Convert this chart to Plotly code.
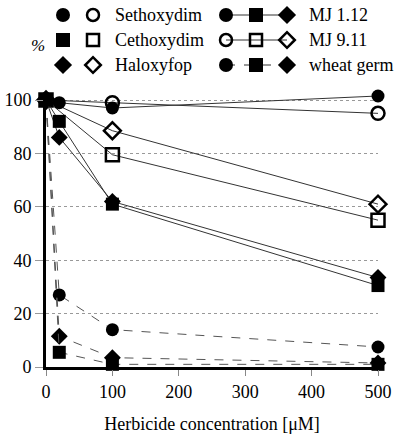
import plotly.graph_objects as go

# ---- data ----
conc = [0, 20, 100, 500]
conc_open = [0, 100, 500]

mj112_sethoxydim = [100, 99, 97, 101.5]
mj112_cethoxydim = [100, 92, 61, 30.5]
mj112_haloxyfop = [100, 86, 62, 33.5]

mj911_sethoxydim = [100, 99, 95]
mj911_cethoxydim = [100, 79.5, 55]
mj911_haloxyfop = [100, 88.5, 61]

wheat_sethoxydim = [100, 27, 14, 7.5]
wheat_cethoxydim = [100, 5.5, 1, 1]
wheat_haloxyfop = [100, 11.5, 3.5, 1.5]

x_ticks = [0, 100, 200, 300, 400, 500]
y_ticks = [0, 20, 40, 60, 80, 100]

FONT = "Liberation Serif"
W, H = 400, 439
ML, MR, MB = 46, 22, 72
plot_h = H - MB  # t = 0
Y_TOP = 102.5
px_per_unit = (367 - 100) / 100.0
y_dom_top = (Y_TOP * px_per_unit) / plot_h

fig = go.Figure()

def series(x, y, symbol, filled, dash):
    fig.add_trace(go.Scatter(
        x=x, y=y, mode="lines+markers",
        line=dict(color="#333" if dash == "solid" else "#555", width=1, dash=dash),
        marker=dict(symbol=symbol if filled else symbol + "-open",
                    size=13,
                    color="black",
                    line=dict(color="black", width=2.5 if not filled else 0)),
        cliponaxis=False, showlegend=False, hoverinfo="skip"))

# dashed wheat germ first (underneath)
series(conc, wheat_sethoxydim, "circle", True, "dash")
series(conc, wheat_haloxyfop, "diamond", True, "dash")
series(conc, wheat_cethoxydim, "square", True, "dash")
# MJ 9.11 open
series(conc_open, mj911_sethoxydim, "circle", False, "solid")
series(conc_open, mj911_haloxyfop, "diamond", False, "solid")
series(conc_open, mj911_cethoxydim, "square", False, "solid")
# MJ 1.12 filled
series(conc, mj112_sethoxydim, "circle", True, "solid")
series(conc, mj112_haloxyfop, "diamond", True, "solid")
series(conc, mj112_cethoxydim, "square", True, "solid")

# ---- custom legend on auxiliary axes (pixel-like coordinates) ----
leg_rows = [15, 40, 65]
left_syms = ["circle", "square", "diamond"]
left_labels = ["Sethoxydim", "Cethoxydim", "Haloxyfop"]
right_labels = ["MJ 1.12", "MJ 9.11", "wheat germ"]

for r, yy in enumerate(leg_rows):
    s = left_syms[r]
    fig.add_trace(go.Scatter(x=[63], y=[yy], mode="markers", xaxis="x2", yaxis="y2",
                             marker=dict(symbol=s, size=14, color="black"),
                             showlegend=False, hoverinfo="skip", cliponaxis=False))
    fig.add_trace(go.Scatter(x=[93], y=[yy], mode="markers", xaxis="x2", yaxis="y2",
                             marker=dict(symbol=s + "-open", size=12, color="black",
                                         line=dict(width=2.5, color="black")),
                             showlegend=False, hoverinfo="skip", cliponaxis=False))
    fig.add_annotation(x=113, y=yy, xref="x2", yref="y2", text=left_labels[r],
                       showarrow=False, xanchor="left", yanchor="middle",
                       font=dict(family=FONT, size=18, color="black"))
    filled = r != 1
    dash = "dash" if r == 2 else "solid"
    fig.add_trace(go.Scatter(x=[226, 256, 287], y=[yy, yy, yy], mode="lines+markers",
                             xaxis="x2", yaxis="y2",
                             line=dict(color="#333", width=1, dash=dash),
                             marker=dict(symbol=[sy if filled else sy + "-open" for sy in left_syms],
                                         size=14 if filled else 12, color="black",
                                         line=dict(width=0 if filled else 2.5, color="black")),
                             showlegend=False, hoverinfo="skip", cliponaxis=False))
    fig.add_annotation(x=307, y=yy, xref="x2", yref="y2", text=right_labels[r],
                       showarrow=False, xanchor="left", yanchor="middle",
                       font=dict(family=FONT, size=18, color="black"))

fig.add_annotation(x=(38 - ML) / (W - ML - MR), y=(plot_h - 45) / plot_h,
                   xref="paper", yref="paper",
                   text="<i>%</i>", showarrow=False, xanchor="center", yanchor="middle",
                   font=dict(family=FONT, size=17, color="black"))

fig.update_layout(
    width=W, height=H,
    margin=dict(l=ML, r=MR, t=0, b=MB, autoexpand=False),
    paper_bgcolor="white", plot_bgcolor="white",
    font=dict(family=FONT, size=18, color="black"),
    xaxis=dict(domain=[0, 1], range=[0, 500], tickvals=x_ticks, automargin=False,
               showline=True, linecolor="black", linewidth=3,
               ticks="outside", ticklen=6, tickcolor="#888", tickwidth=1,
               showgrid=False, zeroline=False,
               tickfont=dict(family=FONT, size=18),
               title=dict(text="Herbicide concentration [μM]", standoff=17,
                          font=dict(family=FONT, size=18))),
    yaxis=dict(domain=[0, y_dom_top], range=[0, Y_TOP], tickvals=y_ticks, automargin=False,
               showline=True, linecolor="black", linewidth=3,
               ticks="outside", ticklen=8, tickcolor="#999", tickwidth=1,
               tickfont=dict(family=FONT, size=18),
               showgrid=True, gridcolor="#999", griddash="dot", gridwidth=1,
               zeroline=False),
    xaxis2=dict(domain=[0, 1], range=[ML, W - MR], visible=False, anchor="y2",
                fixedrange=True),
    yaxis2=dict(domain=[0.76, 1], range=[(1 - 0.76) * plot_h, 0],
                visible=False, anchor="x2", fixedrange=True),
)

fig.write_html("out.html", post_script="document.body.style.margin='0';",
               config={"displayModeBar": False})
